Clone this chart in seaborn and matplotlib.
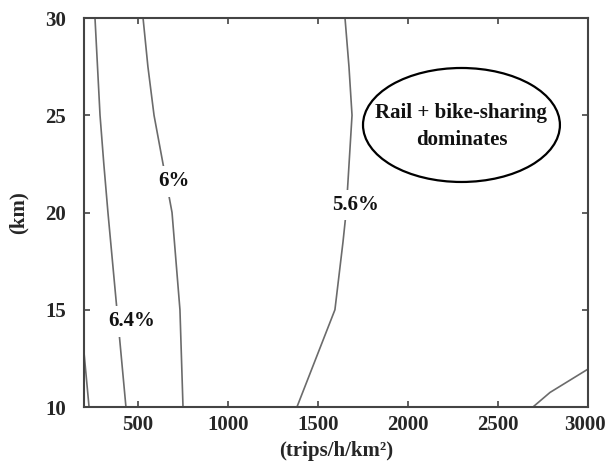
import matplotlib
matplotlib.use("Agg")
import matplotlib.pyplot as plt
import matplotlib.transforms as mtransforms
from matplotlib.patches import Ellipse
import seaborn as sns
import pandas as pd

# Contour traces of the share (x: demand density, y: trip distance)
c68_x = [200, 228]
c68_y = [12.8, 10.0]
c64_x = [261, 275, 289, 310, 333, 383, 433]
c64_y = [30.0, 27.5, 25.0, 22.5, 20.0, 15.0, 10.0]
c60_x = [528, 555, 589, 639, 689, 733, 750]
c60_y = [30.0, 27.5, 25.0, 22.5, 20.0, 15.0, 10.0]
c56_x = [1650, 1672, 1689, 1656, 1639, 1594, 1383]
c56_y = [30.0, 27.5, 25.0, 20.0, 18.5, 15.0, 10.0]
c52_x = [2694, 2789, 3000]
c52_y = [10.0, 10.75, 11.95]

contours = {
    "6.8%": (c68_x, c68_y),
    "6.4%": (c64_x, c64_y),
    "6%": (c60_x, c60_y),
    "5.6%": (c56_x, c56_y),
    "5.2%": (c52_x, c52_y),
}

# Inline contour labels (text, x, y)
label_text = ["6.4%", "6%", "5.6%"]
label_x = [467, 700, 1706]
label_y = [14.4, 21.6, 20.4]

x_ticks = [500, 1000, 1500, 2000, 2500, 3000]
y_ticks = [10, 15, 20, 25, 30]

sns.set_theme(style="white")
plt.rcParams["font.family"] = ["Liberation Serif", "DejaVu Serif"]
plt.rcParams["font.weight"] = "bold"

FS = 15

fig = plt.figure(figsize=(6.07, 4.70), dpi=100)
ax = fig.add_axes([0.1384, 0.134, 0.8303, 0.8277])

frames = []
for name, (xs, ys) in contours.items():
    frames.append(pd.DataFrame({"x": xs, "y": ys, "level": name, "order": range(len(xs))}))
df = pd.concat(frames, ignore_index=True)

for name, sub in df.groupby("level", sort=False):
    sns.lineplot(data=sub, x="x", y="y", sort=False, estimator=None,
                 color="#6b6b6b", linewidth=1.2, ax=ax, legend=False)

for t, lx, ly in zip(label_text, label_x, label_y):
    ax.text(lx, ly, t, ha="center", va="center", fontsize=FS, fontweight="bold",
            color="#111111",
            bbox=dict(boxstyle="square,pad=0.25", facecolor="white", edgecolor="none"))

ell = Ellipse((2297, 24.5), width=1094, height=5.86, facecolor="white",
              edgecolor="black", linewidth=1.6, zorder=5)
ax.add_patch(ell)
ax.text(2297, 25.1, "Rail + bike-sharing", ha="center", va="center",
        fontsize=FS, fontweight="bold", color="#111111", zorder=6)
ax.text(2297, 23.75, "dominates", ha="center", va="center",
        fontsize=FS, fontweight="bold", color="#111111", zorder=6)

ax.set_xlim(200, 3000)
ax.set_ylim(10, 30)
ax.set_xticks(x_ticks)
ax.set_yticks(y_ticks)
ax.set_xticklabels([str(v) for v in x_ticks], fontsize=FS, fontweight="bold")
ax.set_yticklabels([str(v) for v in y_ticks], fontsize=FS, fontweight="bold")
ax.tick_params(axis="x", pad=6)
ax.tick_params(axis="y", pad=13)
ax.tick_params(direction="in", length=4, width=1.2, color="#444444",
               top=True, right=True, bottom=True, left=True)
for sp in ax.spines.values():
    sp.set_color("#444444")
    sp.set_linewidth(1.5)

# keep the last x tick label inside the canvas
last = ax.get_xticklabels()[-1]
last.set_transform(last.get_transform() +
                   mtransforms.ScaledTranslation(-3 / 100, 0, fig.dpi_scale_trans))

ax.set_xlabel("(trips/h/km²)", fontsize=FS, fontweight="bold", labelpad=4)
ax.set_ylabel("(km)", fontsize=FS, fontweight="bold", labelpad=12)

fig.savefig("out.png", dpi=100)
